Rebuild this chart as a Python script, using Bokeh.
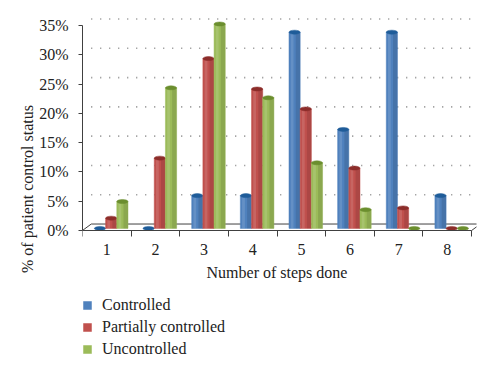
from bokeh.plotting import figure
from bokeh.models import (ColumnDataSource, FixedTicker, PrintfTickFormatter, Legend, LegendItem)
from bokeh.embed import file_html
from bokeh.resources import INLINE

categories = ["1", "2", "3", "4", "5", "6", "7", "8"]
controlled = [0.0, 0.0, 5.6, 5.6, 33.5, 16.9, 33.5, 5.6]
partially = [1.75, 12.0, 29.0, 23.8, 20.4, 10.3, 3.5, 0.0]
uncontrolled = [4.6, 24.0, 34.9, 22.3, 11.2, 3.2, 0.0, 0.0]
series_names = ["Controlled", "Partially controlled", "Uncontrolled"]
series_colors = ["#4F81BD", "#C0504D", "#9BBB59"]
top_colors = ["#1F5C99", "#8C2D2A", "#6B8E2E"]
y_ticks = [0, 5, 10, 15, 20, 25, 30, 35]

FONT = "Liberation Serif"
BAR_W = 0.23
DEPTH_X = 0.09      # bar shift from 3D depth (category units)
DEPTH_Y = 0.35      # bar base raise (percent units)
WALL_X = 0.18       # back wall offset
WALL_Y = 1.1

n = len(categories)
p = figure(width=490, height=362,
           x_range=(0, 8.1), y_range=(-22.54, 36.7),
           output_backend="svg", toolbar_location=None,
           min_border_left=82, min_border_top=15, min_border_right=14, min_border_bottom=0)
p.outline_line_color = None
p.xgrid.visible = False
p.ygrid.visible = False
p.background_fill_color = "white"

# back-wall dotted gridlines
grid_y = [t + WALL_Y for t in y_ticks[1:]]
p.segment(x0=[WALL_X] * len(grid_y), x1=[n + WALL_X] * len(grid_y), y0=grid_y, y1=grid_y,
          line_color="#858585", line_width=1.6, line_dash="1 8")

# floor outline
p.line(x=[0, WALL_X, n + WALL_X, n], y=[0, WALL_Y, WALL_Y, 0], line_color="#404040", line_width=1)

offsets = [-BAR_W, 0.0, BAR_W]
renderers = []
for vals, off, col, tcol, name in zip([controlled, partially, uncontrolled], offsets,
                                      series_colors, top_colors, series_names):
    xs = [i + 0.5 + off + DEPTH_X for i in range(n)]
    tops = [v + DEPTH_Y for v in vals]
    src = ColumnDataSource(dict(x=xs, top=tops, bottom=[DEPTH_Y] * n,
                                xr=[x + BAR_W * 0.3 for x in xs],
                                xl=[x - BAR_W * 0.22 for x in xs]))
    r = p.vbar(x="x", width=BAR_W, top="top", bottom="bottom", source=src,
               fill_color=col, line_color=col, line_width=0.5)
    renderers.append(r)
    # cylinder shading
    p.vbar(x="xr", width=BAR_W * 0.4, top="top", bottom="bottom", source=src,
           fill_color="black", fill_alpha=0.10, line_color=None)
    p.vbar(x="xl", width=BAR_W * 0.25, top="top", bottom="bottom", source=src,
           fill_color="white", fill_alpha=0.12, line_color=None)
    p.ellipse(x="x", y="top", width=BAR_W, height=4, height_units="screen", source=src,
              fill_color=tcol, line_color=tcol, line_width=0.5)

# axes
p.xaxis.fixed_location = 0
p.xaxis.bounds = (0, n)
p.xaxis.ticker = FixedTicker(ticks=[i + 0.5 for i in range(n)], minor_ticks=list(range(n + 1)))
p.xaxis.major_label_overrides = {i + 0.5: c for i, c in enumerate(categories)}
p.xaxis.major_tick_out = 0
p.xaxis.major_tick_in = 0
p.xaxis.minor_tick_out = 6
p.xaxis.minor_tick_in = 0
p.xaxis.minor_tick_line_color = "#404040"
p.xaxis.axis_line_color = "#404040"
p.xaxis.axis_label = "Number of steps done"
p.xaxis.major_label_standoff = 8
p.xaxis.axis_label_standoff = 5

p.yaxis.bounds = (0, 35)
p.yaxis.ticker = FixedTicker(ticks=y_ticks)
p.yaxis.formatter = PrintfTickFormatter(format="%d%%")
p.yaxis.major_tick_out = 4
p.yaxis.major_tick_in = 0
p.yaxis.minor_tick_out = 0
p.yaxis.major_tick_line_color = "#404040"
p.yaxis.axis_line_color = "#404040"
p.yaxis.axis_label = "% of patient control status"
p.yaxis.major_label_standoff = 10
p.yaxis.axis_label_standoff = 0

for ax in (p.xaxis, p.yaxis):
    ax.major_label_text_font = FONT
    ax.major_label_text_font_size = "16px"
    ax.major_label_text_color = "#222222"
    ax.axis_label_text_font = FONT
    ax.axis_label_text_font_size = "16px"
    ax.axis_label_text_font_style = "normal"
    ax.axis_label_text_color = "#222222"

legend = Legend(items=[LegendItem(label=nm, renderers=[r]) for nm, r in zip(series_names, renderers)],
                location=(0, 3), orientation="vertical",
                glyph_width=10, glyph_height=10, label_standoff=10, spacing=2,
                label_height=20, padding=0, margin=0,
                border_line_alpha=0, background_fill_alpha=0,
                label_text_font=FONT, label_text_font_size="16px", label_text_color="#222222")
p.add_layout(legend)

open("out.html", "w").write(file_html(p, INLINE))
